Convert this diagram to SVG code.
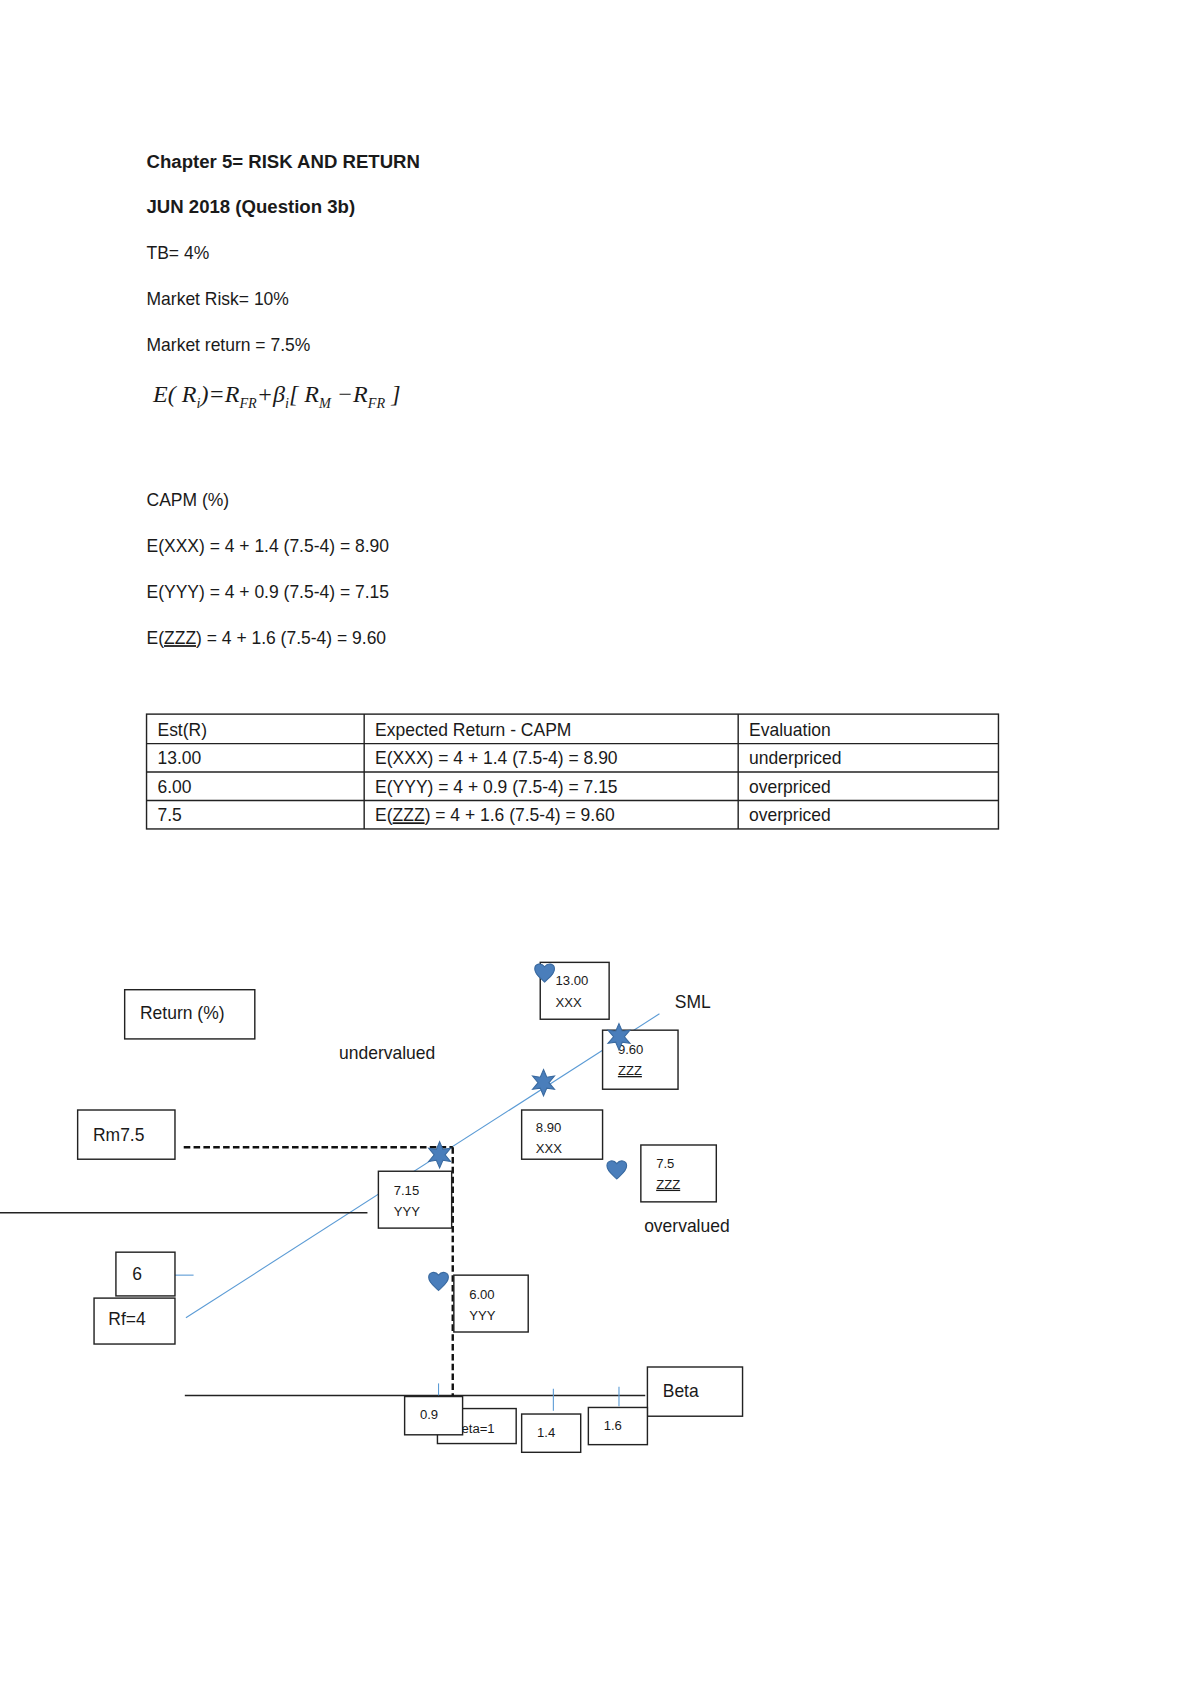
<svg xmlns="http://www.w3.org/2000/svg" width="1200" height="1696" viewBox="0 0 1200 1696">
<style>
text{font-family:"Liberation Sans",Arial,sans-serif;fill:#1a1a1a}
.t{font-size:16px}
.b{font-size:17px;font-weight:bold}
.s{font-size:12px}
.box{fill:#fff;stroke:#222;stroke-width:1.3}
.sml{stroke:#5b9bd5;stroke-width:1;fill:none}
.cell{fill:none;stroke:#222;stroke-width:1.3}
</style>
<defs>
<path id="heart" d="M0,10 C-4,6 -9,3 -9,-2 C-9,-7 -3,-8 0,-4 C3,-8 9,-7 9,-2 C9,3 4,6 0,10Z" fill="#4a7ebb" stroke="#3a6aa0"/>
<path id="star" d="M0,-12 L3,-5 L10,-6 L5,0 L10,6 L3,5 L0,12 L-3,5 L-10,6 L-5,0 L-10,-6 L-3,-5Z" fill="#4a7ebb" stroke="#3a6aa0"/>
</defs>
<rect width="1200" height="1696" fill="#fff"/>
<g transform="scale(1.0936)">
<g id="header">
<text class="b" x="134" y="154">Chapter 5= RISK AND RETURN</text>
<text class="b" x="134" y="195">JUN 2018 (Question 3b)</text>
<text class="t" x="134" y="237">TB= 4%</text>
<text class="t" x="134" y="279">Market Risk= 10%</text>
<text class="t" x="134" y="321">Market return = 7.5%</text>
<text x="140" y="368" style="font-family:'Liberation Serif',serif;font-size:22px;font-style:italic">E( R<tspan font-size="13" dy="5">i</tspan><tspan dy="-5">)=R</tspan><tspan font-size="13" dy="5">FR</tspan><tspan dy="-5">+β</tspan><tspan font-size="13" dy="5">i</tspan><tspan dy="-5">[ R</tspan><tspan font-size="13" dy="5">M</tspan><tspan dy="-5"> −R</tspan><tspan font-size="13" dy="5">FR</tspan><tspan dy="-5"> ]</tspan></text>
<text class="t" x="134" y="463">CAPM (%)</text>
<text class="t" x="134" y="505">E(XXX) = 4 + 1.4 (7.5-4) = 8.90</text>
<text class="t" x="134" y="547">E(YYY) = 4 + 0.9 (7.5-4) = 7.15</text>
<text class="t" x="134" y="589">E(<tspan text-decoration="underline">ZZZ</tspan>) = 4 + 1.6 (7.5-4) = 9.60</text>
</g>
<g id="table">
<rect class="cell" x="134" y="653" width="779" height="105"/>
<line class="cell" x1="134" y1="680" x2="913" y2="680"/>
<line class="cell" x1="134" y1="706" x2="913" y2="706"/>
<line class="cell" x1="134" y1="732" x2="913" y2="732"/>
<line class="cell" x1="333" y1="653" x2="333" y2="758"/>
<line class="cell" x1="675" y1="653" x2="675" y2="758"/>
<text class="t" x="144" y="673">Est(R)</text><text class="t" x="343" y="673">Expected Return - CAPM</text><text class="t" x="685" y="673">Evaluation</text>
<text class="t" x="144" y="699">13.00</text><text class="t" x="343" y="699">E(XXX) = 4 + 1.4 (7.5-4) = 8.90</text><text class="t" x="685" y="699">underpriced</text>
<text class="t" x="144" y="725">6.00</text><text class="t" x="343" y="725">E(YYY) = 4 + 0.9 (7.5-4) = 7.15</text><text class="t" x="685" y="725">overpriced</text>
<text class="t" x="144" y="751">7.5</text><text class="t" x="343" y="751">E(<tspan text-decoration="underline">ZZZ</tspan>) = 4 + 1.6 (7.5-4) = 9.60</text><text class="t" x="685" y="751">overpriced</text>
</g>
<g id="connectors">
<line class="sml" x1="170" y1="1205" x2="603" y2="927"/>
<line x1="0" y1="1109" x2="336" y2="1109" stroke="#222" stroke-width="1.3"/>
<line x1="169" y1="1276" x2="590" y2="1276" stroke="#222" stroke-width="1.3"/>
<line x1="168" y1="1049" x2="414" y2="1049" stroke="#111" stroke-width="2.2" stroke-dasharray="6,3"/>
<line x1="414" y1="1049" x2="414" y2="1278" stroke="#111" stroke-width="2.2" stroke-dasharray="6,3"/>
<line class="sml" x1="160" y1="1166" x2="177" y2="1166"/>
<line class="sml" x1="401" y1="1265" x2="401" y2="1276"/>
<line class="sml" x1="506" y1="1270" x2="506" y2="1290"/>
<line class="sml" x1="566" y1="1268" x2="566" y2="1286"/>
</g>
<g id="return"><rect class="box" x="114" y="905" width="119" height="45"/><text class="t" x="128" y="932">Return (%)</text></g>
<g id="undervalued"><text class="t" x="310" y="968">undervalued</text></g>
<g id="xxx13"><rect class="box" x="494" y="880" width="63" height="52"/><text class="s" x="508" y="901">13.00</text><text class="s" x="508" y="921">XXX</text><use href="#heart" x="498" y="888"/></g>
<g id="sml-label"><text class="t" x="617" y="922">SML</text></g>
<g id="zzz960"><rect class="box" x="551" y="942" width="69" height="54"/><text class="s" x="565" y="964">9.60</text><text class="s" x="565" y="983" text-decoration="underline">ZZZ</text><use href="#star" x="566" y="948"/></g>
<use id="star-xxx" href="#star" x="497" y="990"/>
<g id="xxx890"><rect class="box" x="477" y="1015" width="74" height="45"/><text class="s" x="490" y="1035">8.90</text><text class="s" x="490" y="1054">XXX</text></g>
<g id="rm"><rect class="box" x="71" y="1015" width="89" height="45"/><text class="t" x="85" y="1043">Rm7.5</text></g>
<use id="star-yyy" href="#star" x="402" y="1056"/>
<g id="yyy715"><rect class="box" x="346" y="1071" width="67" height="52"/><text class="s" x="360" y="1093">7.15</text><text class="s" x="360" y="1112">YYY</text></g>
<g id="zzz75"><rect class="box" x="586" y="1047" width="69" height="52"/><text class="s" x="600" y="1068">7.5</text><text class="s" x="600" y="1087" text-decoration="underline">ZZZ</text><use href="#heart" x="564" y="1068"/></g>
<g id="overvalued"><text class="t" x="589" y="1127">overvalued</text></g>
<g id="six"><rect class="box" x="106" y="1145" width="54" height="40"/><text class="t" x="121" y="1170">6</text></g>
<g id="rf"><rect class="box" x="86" y="1187" width="74" height="42"/><text class="t" x="99" y="1212">Rf=4</text></g>
<g id="yyy600"><rect class="box" x="415" y="1166" width="68" height="52"/><text class="s" x="429" y="1188">6.00</text><text class="s" x="429" y="1207">YYY</text><use href="#heart" x="401" y="1170"/></g>
<g id="beta"><rect class="box" x="592" y="1250" width="87" height="45"/><text class="t" x="606" y="1277">Beta</text></g>
<g id="beta1"><rect class="box" x="400" y="1288" width="72" height="32"/><text class="s" x="414" y="1310">Beta=1</text></g>
<g id="b09"><rect class="box" x="370" y="1277" width="53" height="35"/><text class="s" x="384" y="1298">0.9</text></g>
<g id="b14"><rect class="box" x="477" y="1293" width="54" height="35"/><text class="s" x="491" y="1314">1.4</text></g>
<g id="b16"><rect class="box" x="538" y="1287" width="54" height="34"/><text class="s" x="552" y="1308">1.6</text></g>
</g>
</svg>
